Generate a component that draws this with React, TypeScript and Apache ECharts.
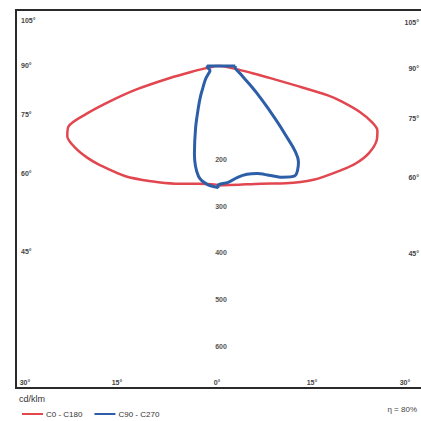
import React, { useEffect, useRef } from "react";
import * as echarts from "echarts";

// Luminous intensity (cd/klm), per gamma angle (deg from nadir)
const c0Angles = [0, 10, 20, 30, 40, 50, 55, 60, 65, 68, 70, 72, 74, 75, 76, 77, 78, 80, 85, 90];
const c0Values = [256, 258, 268, 290, 318, 346, 362, 373, 375, 368, 350, 320, 275, 245, 165, 115, 80, 45, 15, 5];
const c180Angles = [0, 10, 20, 30, 40, 50, 55, 60, 65, 68, 70, 72, 74, 76, 78, 80, 85, 90];
const c180Values = [254, 256, 268, 285, 308, 330, 342, 352, 356, 345, 300, 240, 180, 106, 50, 25, 10, 5];
const c90Angles = [0, 5, 10, 15, 20, 25, 30, 35, 40, 45, 50, 55, 60, 65, 70, 75, 80, 85, 90];
const c90Values = [255, 250, 242, 240, 245, 258, 275, 287, 268, 197, 138, 102, 78, 62, 52, 44, 39, 37, 37];
const c270Angles = [0, 5, 10, 15, 20, 25, 30, 35, 40, 45, 50, 55, 60, 70, 80, 90];
const c270Values = [260, 255, 240, 195, 140, 100, 75, 56, 45, 36, 28, 22, 20, 20, 22, 23];

const seriesNames = ["C0 - C180", "C90 - C270"];
const radialTicks = [200, 300, 400, 500, 600];
const radiusMax = 700;
const sideAngleLabels = ["105°", "90°", "75°", "60°", "45°"];
const bottomAngleLabels = ["30°", "15°", "0°", "15°", "30°"];
const unitLabel = "cd/klm";
const efficiencyLabel = "η = 80%";

// layout (positions of frame labels)
const leftLabelY = [20, 65, 114, 173, 251];
const rightLabelY = [22, 68, 118, 177, 253];
const bottomLabelX = [25, 117, 217, 312, 405];

function loop(rightA: number[], rightV: number[], leftA: number[], leftV: number[]) {
  const pts: number[][] = [];
  for (let i = rightA.length - 1; i >= 0; i--) pts.push([rightV[i], 360 - rightA[i]]);
  for (let i = 0; i < leftA.length; i++) pts.push([leftV[i], leftA[i]]);
  pts.push([rightV[rightV.length - 1], 360 - rightA[rightA.length - 1]]);
  return pts;
}

export default function App() {
  const ref = useRef<HTMLDivElement>(null);
  useEffect(() => {
    const chart = echarts.init(ref.current!, null, { renderer: "svg" });
    const labelStyle = { fontSize: 7, fontWeight: "bold" as const, fill: "#444", fontFamily: "Liberation Sans" };
    const graphics: any[] = [
      {
        type: "polyline",
        shape: { points: [[421, 10], [16, 10], [16, 388], [421, 388]] },
        style: { stroke: "#2a2a2a", lineWidth: 2, fill: "none" },
      },
    ];
    sideAngleLabels.forEach((t, i) => {
      graphics.push({ type: "text", x: 21, y: leftLabelY[i], style: { ...labelStyle, text: t, align: "left", verticalAlign: "middle" } });
      graphics.push({ type: "text", x: 419, y: rightLabelY[i], style: { ...labelStyle, text: t, align: "right", verticalAlign: "middle" } });
    });
    bottomAngleLabels.forEach((t, i) => {
      graphics.push({ type: "text", x: bottomLabelX[i], y: 382, style: { ...labelStyle, text: t, align: "center", verticalAlign: "middle" } });
    });
    graphics.push({ type: "text", x: 19, y: 399, style: { text: unitLabel, fontSize: 9, fill: "#333", fontFamily: "Liberation Sans", align: "left", verticalAlign: "middle" } });
    graphics.push({ type: "text", x: 417, y: 409, style: { text: efficiencyLabel, fontSize: 8, fill: "#444", fontFamily: "Liberation Sans", align: "right", verticalAlign: "middle" } });

    chart.setOption({
      animation: false,
      backgroundColor: "#ffffff",
      polar: { center: [218, 66], radius: 327 },
      angleAxis: {
        type: "value",
        min: 0,
        max: 360,
        startAngle: 270,
        clockwise: true,
        show: false,
      },
      radiusAxis: {
        type: "value",
        min: 0,
        max: radiusMax,
        interval: 100,
        axisLine: { show: false },
        axisTick: { show: false },
        splitLine: { show: false },
        axisLabel: {
          show: true,
          margin: 3,
          align: "center",
          verticalAlign: "middle",
          fontSize: 7,
          fontWeight: "bold",
          color: "#555",
          fontFamily: "Liberation Sans",
          formatter: (v: number) => (radialTicks.indexOf(v) >= 0 ? String(v) : ""),
        },
      },
      legend: {
        left: 17,
        top: 405,
        icon: "rect",
        itemWidth: 21,
        itemHeight: 2,
        itemGap: 12,
        data: seriesNames,
        textStyle: { fontSize: 8, color: "#333", fontFamily: "Liberation Sans", padding: [0, 0, 0, -2] },
      },
      graphic: graphics,
      series: [
        {
          name: seriesNames[0],
          type: "line",
          coordinateSystem: "polar",
          data: loop(c0Angles, c0Values, c180Angles, c180Values),
          symbol: "none",
          smooth: 0.3,
          lineStyle: { color: "#e2474f", width: 2.5 },
          itemStyle: { color: "#e2474f" },
        },
        {
          name: seriesNames[1],
          type: "line",
          coordinateSystem: "polar",
          data: loop(c90Angles, c90Values, c270Angles, c270Values),
          symbol: "none",
          smooth: 0.3,
          lineStyle: { color: "#2d5ea8", width: 3 },
          itemStyle: { color: "#2d5ea8" },
        },
      ],
    });
    return () => chart.dispose();
  }, []);
  return <div ref={ref} style={{ position: "fixed", left: 0, top: 0, width: 421, height: 421 }} />;
}
